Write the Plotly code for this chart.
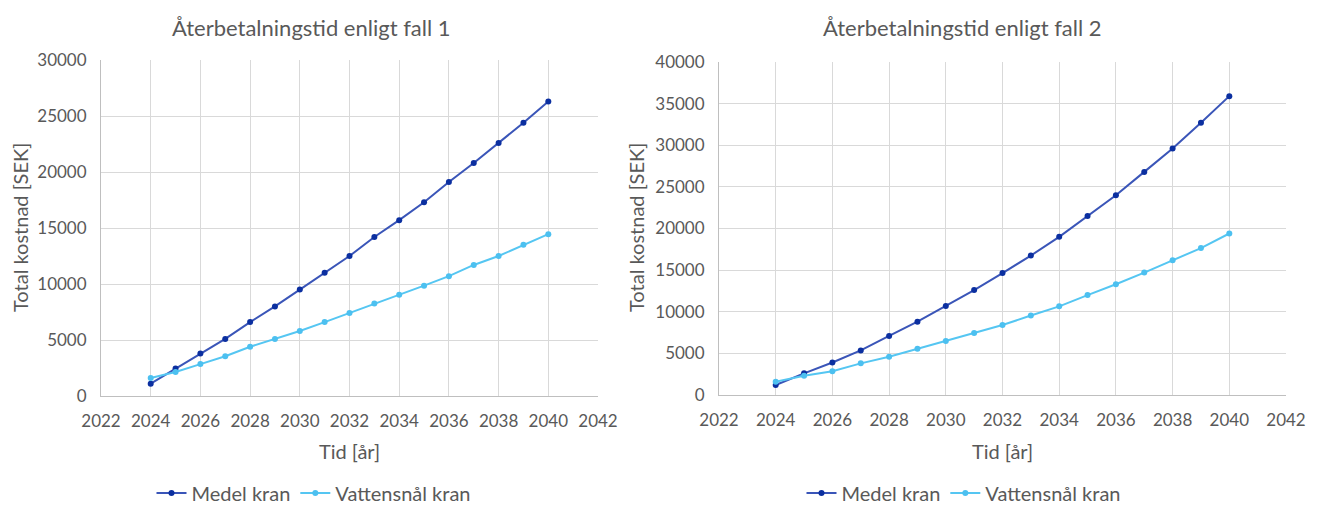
import plotly.graph_objects as go

years = list(range(2024, 2041))

# Fall 1
medel_fall1 = [1100, 2450, 3800, 5100, 6600, 8000, 9500, 11000, 12500, 14200,
               15700, 17300, 19100, 20800, 22600, 24400, 26300]
vatten_fall1 = [1600, 2150, 2850, 3550, 4400, 5100, 5800, 6600, 7400, 8250,
                9050, 9850, 10700, 11700, 12500, 13500, 14450]

# Fall 2
medel_fall2 = [1200, 2600, 3900, 5350, 7100, 8800, 10700, 12600, 14650, 16750,
               19000, 21500, 24000, 26800, 29600, 32700, 35900]
vatten_fall2 = [1600, 2300, 2850, 3800, 4600, 5550, 6500, 7450, 8400, 9550,
                10650, 12000, 13300, 14700, 16200, 17650, 19400]

titles = ["Återbetalningstid enligt fall 1", "Återbetalningstid enligt fall 2"]
series_names = ["Medel kran", "Vattensnål kran"]
x_tick_vals = list(range(2022, 2043, 2))

DARK_LINE = "#3A55B8"
DARK_MARK = "#0B2FA0"
LIGHT_LINE = "#55C6F2"
LIGHT_MARK = "#4CC0F0"
TEXT = "#595959"
FONT = "Lato"
W, H = 1321, 509

fig = go.Figure()

panels = [
    dict(medel=medel_fall1, vatten=vatten_fall1, xa="x", ya="y", legend="legend",
         px=(101, 598), py=(60, 396), ymax=30000),
    dict(medel=medel_fall2, vatten=vatten_fall2, xa="x2", ya="y2", legend="legend2",
         px=(719, 1286), py=(62, 395), ymax=40000),
]

for p in panels:
    fig.add_trace(go.Scatter(
        x=years, y=p["medel"], name=series_names[0], mode="lines+markers",
        line=dict(color=DARK_LINE, width=2), marker=dict(color=DARK_MARK, size=6),
        xaxis=p["xa"], yaxis=p["ya"], legend=p["legend"]))
    fig.add_trace(go.Scatter(
        x=years, y=p["vatten"], name=series_names[1], mode="lines+markers",
        line=dict(color=LIGHT_LINE, width=2), marker=dict(color=LIGHT_MARK, size=6),
        xaxis=p["xa"], yaxis=p["ya"], legend=p["legend"]))

axis_common = dict(showgrid=True, gridcolor="#D9D9D9", gridwidth=1,
                   showline=True, linecolor="#BFBFBF", linewidth=1,
                   zeroline=False, ticks="", automargin=False,
                   tickfont=dict(family=FONT, size=17, color=TEXT))

layout_axes = {}
for i, p in enumerate(panels):
    suffix = "" if i == 0 else "2"
    x0, x1 = p["px"]
    y0, y1 = p["py"]
    layout_axes["xaxis" + suffix] = dict(
        axis_common, domain=[x0 / W, x1 / W], range=[2022, 2042],
        tickvals=x_tick_vals, anchor="y" + suffix, ticklabelstandoff=10)
    layout_axes["yaxis" + suffix] = dict(
        axis_common, domain=[1 - y1 / H, 1 - y0 / H], range=[0, p["ymax"]],
        dtick=5000, tickformat="d", anchor="x" + suffix, ticklabelstandoff=10)

fig.update_layout(**layout_axes)

annotations = []
centers = [(101 + 598) / 2, (719 + 1286) / 2]
title_x = [311, 962]
ylab_x = [20, 636]
for i in range(2):
    annotations.append(dict(text=titles[i], x=title_x[i] / W, y=1 - 27 / H,
                            xref="paper", yref="paper", showarrow=False,
                            xanchor="center", yanchor="middle",
                            font=dict(family=FONT, size=22, color=TEXT)))
    annotations.append(dict(text="Tid [år]", x=centers[i] / W, y=1 - 451 / H,
                            xref="paper", yref="paper", showarrow=False,
                            xanchor="center", yanchor="middle",
                            font=dict(family=FONT, size=20, color=TEXT)))
    annotations.append(dict(text="Total kostnad [SEK]", x=ylab_x[i] / W,
                            y=1 - 228 / H, xref="paper", yref="paper",
                            showarrow=False, textangle=-90,
                            xanchor="center", yanchor="middle",
                            font=dict(family=FONT, size=20, color=TEXT)))

legend_common = dict(orientation="h", xanchor="center", yanchor="middle",
                     y=1 - 493 / H, font=dict(family=FONT, size=20, color=TEXT),
                     bgcolor="rgba(0,0,0,0)", itemwidth=30)

fig.update_layout(
    width=W, height=H,
    paper_bgcolor="white", plot_bgcolor="white",
    margin=dict(l=0, r=0, t=0, b=0, autoexpand=False),
    annotations=annotations,
    legend=dict(legend_common, x=314 / W),
    legend2=dict(legend_common, x=964 / W),
    showlegend=True,
)

fig.write_html(
    "out.html",
    config={"displayModeBar": False},
    post_script="document.body.style.margin='0px';document.body.style.overflow='hidden';",
)
